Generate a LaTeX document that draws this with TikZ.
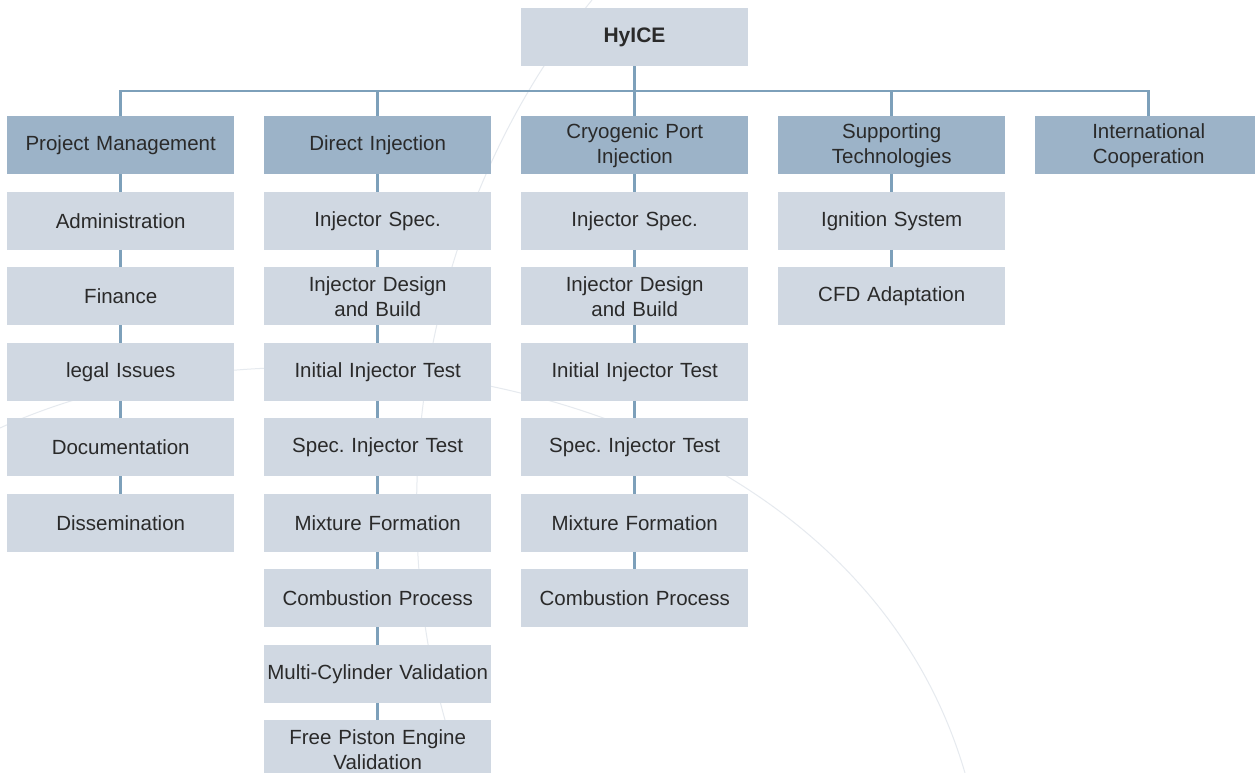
\documentclass[tikz,border=0pt]{standalone}
\usepackage{fontspec}
\setmainfont{Liberation Sans}
\frenchspacing
\usetikzlibrary{matrix}
\definecolor{colorLight}{HTML}{D0D8E2}
\definecolor{colorDark}{HTML}{9CB3C8}
\definecolor{colorLine}{HTML}{7DA0BA}
\definecolor{colorText}{HTML}{2A2A2A}
\definecolor{colorArc}{HTML}{E6EAEF}
\tikzset{
	box/.style={fill=colorLight, text=colorText, text width=227pt, minimum height=58pt,
		inner sep=0pt, align=center, font=\fontsize{20.5}{25}\selectfont},
	link/.style={colorLine, line width=2.6pt},
}
\begin{document}
\begin{tikzpicture}[x=1pt,y=-1pt]
		\clip (0,0) rectangle (1255,773);
		\fill[white] (0,0) rectangle (1255,773);
		%
		\draw[colorArc, line width=1pt] (0,428) .. controls (300,290) and (850,380) .. (965,773);
		\draw[colorArc, line width=1pt] (592,0) .. controls (420,210) and (370,520) .. (462,773);
		%
		\node[box, font=\fontsize{21}{25}\selectfont\bfseries] (hyice) at (634.5,37) {HyICE};
		\matrix (m) [
			matrix of nodes,
			nodes={box, anchor=center},
			row 1/.style={nodes={fill=colorDark}},
			column sep=30pt,
			row sep=17.5pt,
			inner sep=0pt,
			anchor=north west,
		] at (7,116) {
			Project Management & Direct Injection & Cryogenic Port\par Injection & Supporting\par Technologies & International\par Cooperation \\
			Administration & Injector Spec. & Injector Spec. & Ignition System & \\
			Finance & Injector Design\par and Build & Injector Design\par and Build & CFD Adaptation & \\
			legal Issues & Initial Injector Test & Initial Injector Test & & \\
			Documentation & Spec. Injector Test & Spec. Injector Test & & \\
			Dissemination & Mixture Formation & Mixture Formation & & \\
			& Combustion Process & Combustion Process & & \\
			& Multi-Cylinder Validation & & & \\
			& Free Piston Engine\par Validation & & & \\
		};
		%
		\coordinate (bus) at (0,91);
		\draw[link] (hyice.south) -- (hyice.south |- bus);
		\draw[link] (m-1-1.north) -- (m-1-1.north |- bus) -- (m-1-5.north |- bus) -- (m-1-5.north);
		\foreach \c in {2,3,4}
			\draw[link] (m-1-\c.north) -- (m-1-\c.north |- bus);
		%
		\foreach \c/\n in {1/6,2/9,3/7,4/3}
			\foreach \r [remember=\r as \p (initially 1)] in {2,...,\n}
				\draw[link] (m-\p-\c.south) -- (m-\r-\c.north);
	\end{tikzpicture}
\end{document}
